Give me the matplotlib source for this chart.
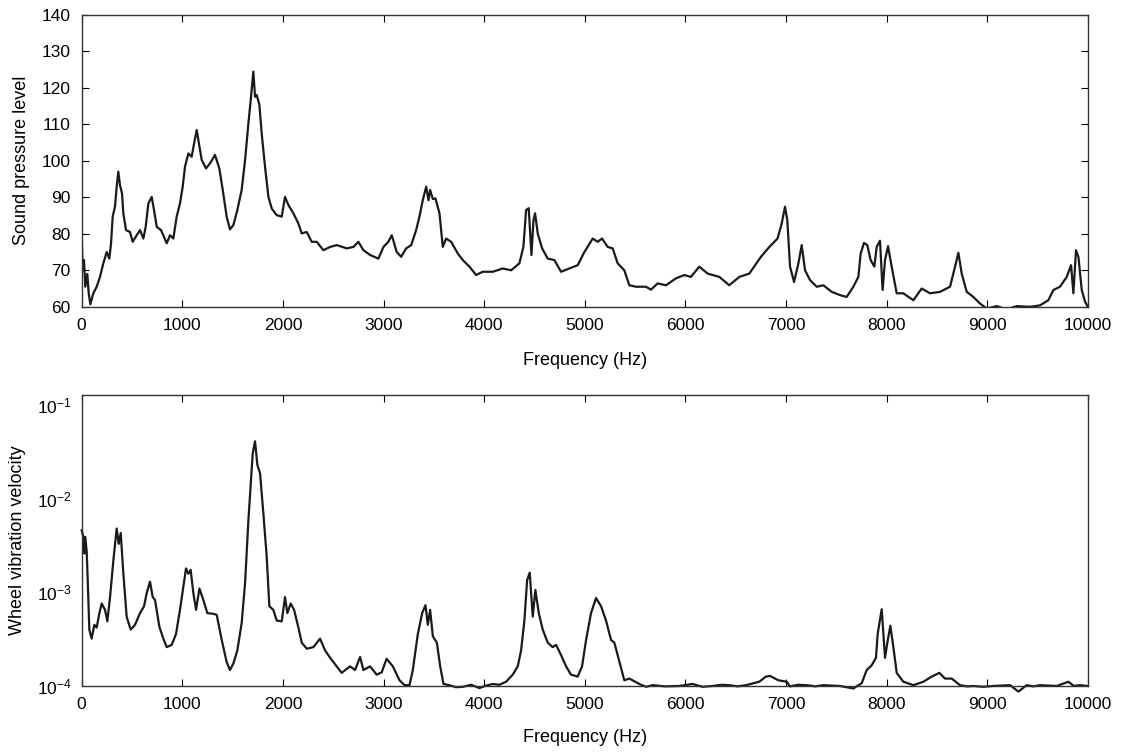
import numpy as np
import matplotlib
matplotlib.use("Agg")
import matplotlib.pyplot as plt

plt.rcParams['font.family'] = ['Liberation Sans', 'DejaVu Sans']
plt.rcParams['mathtext.fontset'] = 'custom'
plt.rcParams['mathtext.rm'] = 'Liberation Sans'

# sound pressure level spectrum
spl_freq = [0, 10, 23, 36, 56, 70, 86, 116, 149, 182, 215, 249, 275, 292, 308, 331, 348, 364, 381, 401,
            414, 441, 480, 507, 547, 580, 613, 636, 663, 696, 719, 746, 789, 845, 878, 911, 944, 977, 1004, 1027,
            1060, 1093, 1117, 1143, 1166, 1193, 1236, 1276, 1325, 1368, 1402, 1441, 1474, 1508, 1547, 1590, 1624, 1657, 1680, 1706,
            1723, 1740, 1766, 1789, 1822, 1856, 1889, 1938, 1988, 2021, 2054, 2104, 2154, 2187, 2237, 2286, 2336, 2402, 2469, 2535,
            2634, 2700, 2750, 2800, 2866, 2949, 2999, 3048, 3082, 3131, 3175, 3225, 3275, 3324, 3357, 3390, 3424, 3447, 3463, 3490,
            3516, 3556, 3589, 3622, 3672, 3738, 3788, 3854, 3920, 3986, 4086, 4185, 4268, 4350, 4390, 4417, 4443, 4470, 4490, 4506,
            4533, 4576, 4632, 4698, 4764, 4847, 4930, 4996, 5079, 5128, 5171, 5228, 5277, 5327, 5393, 5443, 5509, 5608, 5658, 5724,
            5807, 5906, 5989, 6055, 6138, 6221, 6337, 6436, 6536, 6635, 6751, 6834, 6916, 6957, 6990, 7013, 7040, 7080, 7123, 7156,
            7189, 7239, 7305, 7371, 7454, 7537, 7603, 7669, 7719, 7742, 7775, 7808, 7841, 7878, 7901, 7934, 7960, 7984, 8014, 8050,
            8100, 8166, 8266, 8348, 8431, 8531, 8630, 8680, 8713, 8746, 8796, 8862, 8928, 8995, 9094, 9193, 9293, 9425, 9524, 9607,
            9657, 9723, 9790, 9833, 9856, 9882, 9906, 9939, 9972, 10000]
spl = [80, 70, 72.8, 65.5, 69, 63.7, 60.7, 63.7, 65.5, 68.2, 71.9, 75, 73.2, 77.4, 84.7, 87.4, 92.9, 97, 93.3, 91,
       85.6, 81, 80.5, 77.8, 79.6, 81, 78.7, 81.9, 88.3, 90.1, 86.5, 81.9, 81, 77.4, 79.6, 78.7, 84.7, 88.3, 92.9, 98.4,
       102, 101.1, 104.7, 108.4, 104.7, 100.2, 97.9, 99.3, 101.6, 97.9, 92, 84.7, 81.2, 82.4, 86.5, 92, 100.2, 110.2, 116.6, 124.4,
       117.5, 118, 115.3, 107.5, 98.4, 90.1, 86.9, 85.1, 84.7, 90.1, 87.9, 85.6, 82.8, 80.1, 80.5, 77.8, 77.8, 75.5, 76.4, 76.9,
       76, 76.4, 77.8, 75.5, 74.2, 73.2, 76.4, 77.8, 79.6, 75, 73.7, 76, 76.9, 81, 84.7, 89.2, 92.9, 89.2, 92, 89.5,
       89.7, 85.6, 76.4, 78.7, 77.8, 74.6, 72.8, 71, 68.7, 69.6, 69.6, 70.5, 70, 71.9, 76.4, 86.5, 87, 74.2, 83.7, 85.6,
       80, 76, 73.2, 72.8, 69.6, 70.5, 71.4, 75, 78.7, 77.8, 78.7, 76.4, 76, 71.9, 70, 65.9, 65.5, 65.5, 64.7, 66.4,
       65.9, 67.8, 68.7, 68.2, 71, 69.1, 68.2, 65.9, 68.2, 69.1, 73.7, 76.4, 78.7, 82.8, 87.4, 83.7, 71, 66.8, 71.9, 76.9,
       70, 67.3, 65.5, 65.9, 64.1, 63.2, 62.7, 65.5, 68.2, 74.6, 77.5, 76.9, 72.8, 71, 76.4, 78.1, 64.6, 72.8, 76.6, 71,
       63.7, 63.7, 61.8, 65, 63.7, 64.1, 65.5, 71, 74.8, 69.1, 64.1, 62.7, 60.9, 59.5, 60.2, 59.3, 60.2, 60, 60.4, 61.8,
       64.6, 65.5, 68.2, 71.4, 63.7, 75.5, 73.7, 64.6, 61.4, 60]

# wheel vibration velocity spectrum
vel_freq = [0, 17, 27, 36, 50, 60, 76, 99, 126, 149, 176, 199, 232, 255, 282, 315, 348, 368, 388, 414,
            447, 487, 530, 580, 620, 646, 679, 706, 729, 772, 812, 845, 895, 938, 977, 1011, 1037, 1060, 1083, 1110,
            1137, 1170, 1209, 1249, 1309, 1342, 1392, 1441, 1474, 1508, 1547, 1590, 1624, 1657, 1680, 1700, 1723, 1746, 1773, 1806,
            1839, 1865, 1905, 1938, 1988, 2021, 2044, 2077, 2111, 2154, 2187, 2237, 2303, 2369, 2419, 2469, 2535, 2584, 2667, 2717,
            2767, 2800, 2866, 2932, 2982, 3030, 3093, 3159, 3209, 3258, 3291, 3341, 3384, 3417, 3440, 3463, 3490, 3530, 3563, 3596,
            3655, 3720, 3788, 3870, 3953, 4020, 4086, 4150, 4218, 4284, 4334, 4367, 4400, 4427, 4453, 4483, 4509, 4543, 4582, 4632,
            4681, 4715, 4764, 4814, 4863, 4930, 4973, 5013, 5062, 5112, 5162, 5211, 5261, 5294, 5344, 5393, 5443, 5542, 5610, 5675,
            5800, 5940, 6072, 6170, 6271, 6360, 6436, 6520, 6602, 6734, 6801, 6841, 6924, 7007, 7040, 7120, 7205, 7290, 7371, 7450,
            7537, 7669, 7752, 7802, 7851, 7894, 7911, 7951, 7984, 8007, 8037, 8067, 8100, 8166, 8266, 8365, 8448, 8524, 8580, 8647,
            8729, 8800, 8862, 8960, 9061, 9140, 9227, 9310, 9392, 9460, 9524, 9610, 9690, 9806, 9860, 9922, 10000]
vel = [4.6e-3, 3.9e-3, 2.6e-3, 3.9e-3, 2.7e-3, 1.36e-3, 4.0e-4, 3.2e-4, 4.5e-4, 4.2e-4, 6.0e-4, 7.6e-4, 6.5e-4, 4.9e-4, 8.9e-4, 2.2e-3, 4.8e-3, 3.3e-3, 4.3e-3, 1.6e-3,
       5.5e-4, 4.0e-4, 4.5e-4, 6.0e-4, 7.1e-4, 9.8e-4, 1.3e-3, 8.9e-4, 8.3e-4, 4.3e-4, 3.2e-4, 2.6e-4, 2.75e-4, 3.6e-4, 6.5e-4, 1.15e-3, 1.8e-3, 1.58e-3, 1.74e-3, 9.8e-4,
       6.5e-4, 1.1e-3, 8.3e-4, 6.0e-4, 5.9e-4, 5.75e-4, 3.1e-4, 1.8e-4, 1.48e-4, 1.74e-4, 2.4e-4, 4.7e-4, 1.26e-3, 5.9e-3, 1.45e-2, 3.05e-2, 4.1e-2, 2.3e-2, 1.86e-2, 6.9e-3,
       2.4e-3, 7.1e-4, 6.5e-4, 5.0e-4, 4.9e-4, 8.9e-4, 6.0e-4, 7.6e-4, 6.5e-4, 4.2e-4, 2.9e-4, 2.5e-4, 2.6e-4, 3.2e-4, 2.4e-4, 2.0e-4, 1.62e-4, 1.38e-4, 1.62e-4, 1.48e-4,
       2.04e-4, 1.48e-4, 1.62e-4, 1.32e-4, 1.4e-4, 1.95e-4, 1.62e-4, 1.15e-4, 1.02e-4, 1.02e-4, 1.48e-4, 3.6e-4, 6.0e-4, 7.3e-4, 4.5e-4, 6.5e-4, 3.4e-4, 2.9e-4, 1.62e-4, 1.05e-4,
       1.02e-4, 0.97e-4, 0.98e-4, 1.03e-4, 0.95e-4, 1.01e-4, 1.05e-4, 1.03e-4, 1.11e-4, 1.32e-4, 1.62e-4, 2.4e-4, 5.0e-4, 1.35e-3, 1.62e-3, 5.5e-4, 1.06e-3, 6.0e-4, 4.0e-4, 2.9e-4,
       2.6e-4, 2.75e-4, 2.14e-4, 1.62e-4, 1.32e-4, 1.26e-4, 1.62e-4, 3.1e-4, 6.0e-4, 8.7e-4, 7.1e-4, 5.0e-4, 3.1e-4, 2.9e-4, 1.82e-4, 1.15e-4, 1.2e-4, 1.05e-4, 0.98e-4, 1.02e-4,
       0.99e-4, 1.0e-4, 1.05e-4, 0.98e-4, 1.0e-4, 1.03e-4, 1.02e-4, 0.99e-4, 1.02e-4, 1.11e-4, 1.26e-4, 1.28e-4, 1.15e-4, 1.11e-4, 0.99e-4, 1.03e-4, 1.02e-4, 0.99e-4, 1.02e-4, 1.01e-4,
       1.0e-4, 0.94e-4, 1.07e-4, 1.48e-4, 1.66e-4, 2.0e-4, 3.6e-4, 6.6e-4, 2.0e-4, 2.9e-4, 4.4e-4, 2.6e-4, 1.38e-4, 1.11e-4, 1.02e-4, 1.11e-4, 1.26e-4, 1.38e-4, 1.2e-4, 1.2e-4,
       1.02e-4, 0.99e-4, 1.0e-4, 0.98e-4, 1.0e-4, 1.01e-4, 1.02e-4, 0.87e-4, 1.02e-4, 0.99e-4, 1.02e-4, 1.01e-4, 1.0e-4, 1.11e-4, 1.0e-4, 1.02e-4, 1.0e-4]

line_color = '#1a1a1a'

fig = plt.figure(figsize=(11.25, 7.52), dpi=100)
ax1 = fig.add_axes([0.0726, 0.592, 0.8944, 0.3885])
ax2 = fig.add_axes([0.0726, 0.0878, 0.8944, 0.3869])

ax1.plot(spl_freq, spl, color=line_color, lw=1.6)
ax1.set_xlim(0, 10000)
ax1.set_ylim(60, 140)
ax1.set_xticks(np.arange(0, 10001, 1000))
ax1.set_yticks(np.arange(60, 141, 10))
ax1.set_xlabel('Frequency (Hz)', fontsize=13, labelpad=14)
ax1.set_ylabel('Sound pressure level', fontsize=13, labelpad=8)
ax1.tick_params(direction='in', top=True, right=True, length=5, labelsize=12.5)
ax1.tick_params(axis='x', pad=8)
ax1.tick_params(axis='y', pad=8)

ax2.semilogy(vel_freq, vel, color=line_color, lw=1.6, clip_on=False)
ax2.set_xlim(0, 10000)
ax2.set_ylim(1e-4, 0.128)
ax2.set_xticks(np.arange(0, 10001, 1000))
ax2.set_yticks([1e-4, 1e-3, 1e-2, 1e-1])
ax2.minorticks_off()
ax2.set_xlabel('Frequency (Hz)', fontsize=13, labelpad=12)
ax2.set_ylabel('Wheel vibration velocity', fontsize=13, labelpad=8)
ax2.tick_params(axis='x', direction='in', top=True, length=5, labelsize=12.5, pad=8)
ax2.tick_params(axis='y', direction='out', length=0, pad=7, labelsize=12.5)

for ax in (ax1, ax2):
    for s in ax.spines.values():
        s.set_linewidth(1.0)
        s.set_color('#333333')

fig.savefig('out.png', dpi=100)
